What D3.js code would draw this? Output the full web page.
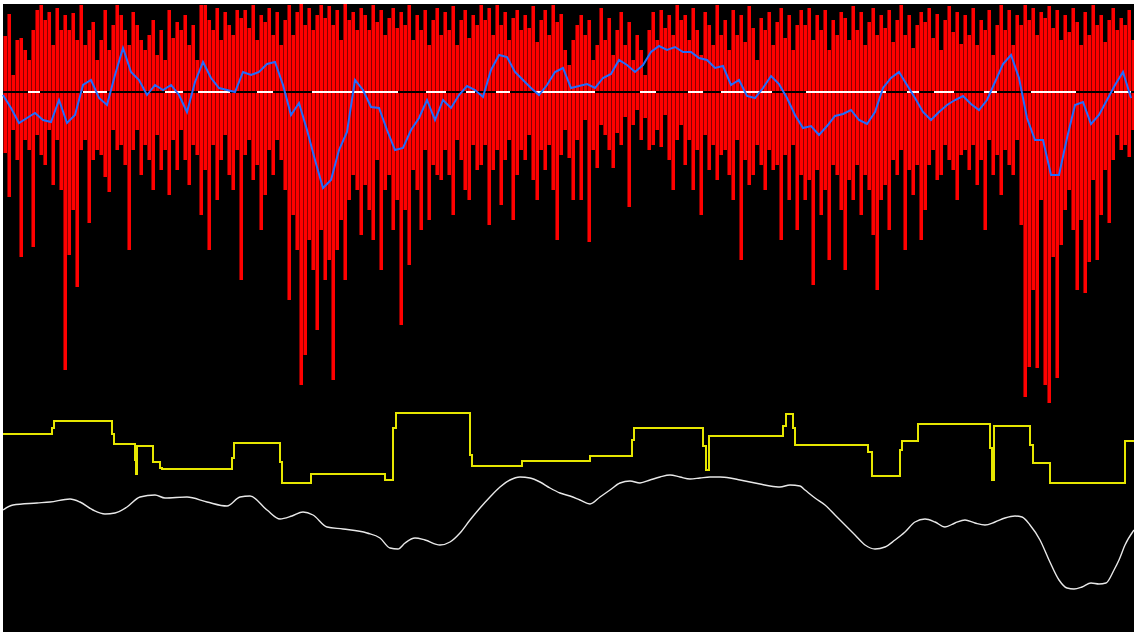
<!DOCTYPE html>
<html>
<head>
<meta charset="utf-8">
<script src="https://cdn.jsdelivr.net/npm/d3@7"></script>
<style>
	body { margin: 0; background: #fff; }
	svg { display: block; }
</style>
</head>
<body>
<div id="vis"></div>
<script>
const width = 1134;
const height = 635;

// histogram: upper and lower end of every bar, one bar every 4 time units
const barHigh = [
	56,78,17,52,54,42,32,62,82,87, 72,80,47,84,62,77,62,79,52,87,
	47,62,70,32,52,82,42,67,87,77, 62,47,80,67,52,42,57,72,37,62,
	32,82,54,70,62,77,47,67,32,87, 87,72,62,84,52,80,67,57,82,74,
	82,64,87,52,77,70,84,57,80,47, 72,87,57,80,88,67,84,62,77,87,
	74,86,67,82,52,88,72,80,62,84, 77,62,87,70,82,57,74,84,64,80,
	67,87,52,77,62,82,47,72,84,57, 80,62,86,47,72,82,54,77,67,87,
	72,84,57,87,67,80,52,74,82,62, 77,64,86,50,72,82,57,87,70,78,
	42,27,52,67,77,57,72,32,47,84, 52,74,37,62,80,47,70,32,57,42,
	17,62,80,52,82,64,77,57,87,72, 77,52,84,62,37,80,67,47,87,57,
	72,42,82,57,77,50,86,64,32,74, 62,80,47,70,84,54,77,42,67,82,
	67,84,52,77,62,82,42,72,57,80, 74,52,86,62,80,47,70,84,57,77,
	64,82,50,72,87,57,77,44,67,80, 70,84,54,78,42,72,86,60,80,48,
	77,57,84,47,72,62,82,37,67,87, 62,82,47,77,67,87,72,84,57,80,
	74,86,64,82,52,77,60,84,70,47, 80,57,87,67,77,50,72,84,62,74,
	67,82,52
];
const barLow = [
	-61,-105,-38,-68,-165,-48,-58,-155,-43,-63, -73,-38,-93,-48,-98,-278,-163,-118,-195,-58,
	-48,-131,-68,-58,-63,-85,-100,-38,-58,-53, -73,-158,-58,-38,-83,-53,-68,-98,-43,-78,
	-58,-103,-48,-78,-38,-68,-93,-53,-63,-123, -78,-158,-53,-108,-68,-43,-83,-98,-58,-188,
	-63,-48,-88,-73,-138,-103,-58,-83,-48,-68, -98,-208,-123,-158,-293,-263,-148,-178,-238,-138,
	-188,-168,-288,-158,-128,-188,-108,-83,-98,-143, -93,-118,-148,-68,-178,-98,-83,-138,-108,-233,
	-118,-173,-78,-98,-138,-58,-128,-73,-83,-88, -58,-83,-123,-48,-68,-98,-108,-53,-78,-73,
	-53,-133,-78,-58,-113,-68,-48,-128,-83,-58, -68,-43,-88,-108,-58,-78,-53,-98,-148,-63,
	-38,-66,-108,-48,-108,-28,-150,-58,-76,-33, -43,-58,-76,-41,-53,-25,-115,-33,-18,-48,
	-26,-58,-53,-38,-55,-23,-68,-98,-48,-33, -73,-48,-98,-58,-123,-43,-78,-53,-88,-63,
	-58,-83,-108,-48,-168,-68,-93,-83,-53,-73, -98,-58,-78,-73,-148,-63,-108,-53,-138,-83,
	-108,-88,-193,-78,-123,-98,-168,-73,-83,-118, -178,-88,-108,-73,-123,-83,-98,-143,-198,-108,
	-93,-138,-68,-83,-58,-158,-78,-103,-73,-148, -118,-73,-58,-88,-83,-53,-68,-78,-108,-63,
	-58,-78,-53,-93,-68,-138,-48,-83,-63,-103, -58,-73,-83,-48,-133,-305,-275,-198,-276,-108,
	-293,-311,-165,-286,-153,-118,-98,-138,-198,-128, -201,-170,-88,-168,-123,-78,-131,-68,-43,-58,
	-53,-65,-38
];
const barStep = 4;

// blue signal line, one value every 8 time units
const blueLine = [
	-3,-16,-31,-26,-21,-28,-30,-8,-31,-23,
	7,12,-6,-13,17,44,20,12,-3,7,
	2,7,-3,-20,10,30,14,4,2,0,
	20,17,20,28,30,7,-23,-11,-38,-68,
	-96,-88,-58,-40,12,2,-15,-16,-38,-58,
	-56,-38,-26,-8,-28,-8,-16,-3,6,2,
	-5,22,37,35,20,12,4,-3,7,20,
	24,4,6,8,4,14,18,32,27,20,
	27,40,46,42,45,40,40,34,32,24,
	26,7,12,-4,-6,4,16,8,-6,-23,
	-36,-34,-43,-34,-24,-22,-18,-28,-32,-20,
	4,14,20,7,-6,-20,-28,-20,-13,-8,
	-4,-12,-18,-8,10,28,37,14,-26,-48,
	-48,-83,-83,-46,-13,-10,-32,-23,-8,7,
	20,-6
];
const blueStep = 8;

// spans where the zero level is flagged (white)
const flagSpans = [
	[25,37],[80,104],[162,180],[195,227],[254,270],[309,395],[423,443],[463,472],
	[493,507],[533,592],[637,653],[685,700],[718,769],[803,883],[904,916],[931,951],
	[981,994],[1028,1073],[1111,1128]
];

// yellow step line
const stepT = [0,49,51,109,111,132,133,134,150,157,159,229,231,277,279,308,382,390,393,467,
	469,519,587,629,631,700,703,706,780,783,790,792,865,869,897,899,915,987,989,991,1027,1030,1047,1122];
const stepV = [-342,-336,-329,-342,-352,-368,-382,-354,-370,-376,-377,-366,-351,-370,-391,-382,-388,-336,-321,-363,
	-374,-369,-364,-348,-336,-354,-378,-344,-334,-322,-336,-353,-360,-384,-358,-349,-332,-356,-388,-334,-353,-371,-391,-349];

// white smooth line
const smoothT = [0,10,34,47,67,77,90,102,112,124,137,152,162,184,204,224,237,247,264,277,289,300,310,324,340,364,377,387,395,402,
	412,422,437,447,457,467,477,487,497,507,517,527,537,547,557,567,577,587,597,607,617,627,637,647,657,667,677,687,697,707,
	717,727,737,747,757,767,777,787,797,802,812,822,832,842,852,862,872,882,892,902,912,922,932,942,952,962,972,982,992,1002,
	1012,1019,1027,1037,1046,1056,1064,1071,1079,1088,1096,1103,1111,1116,1122,1131];
const smoothV = [-418,-413,-411,-410,-407,-410,-418,-422,-421,-415,-405,-403,-406,-405,-410,-414,-405,-404,-418,-427,-424,-420,-423,-435,-437,-441,-446,-456,-457,-451,
	-446,-448,-453,-450,-441,-428,-416,-405,-395,-388,-385,-386,-390,-396,-401,-404,-408,-412,-405,-398,-391,-389,-391,-388,-385,-383,-385,-387,-386,-385,
	-385,-386,-388,-390,-392,-394,-395,-393,-394,-398,-406,-413,-423,-433,-443,-453,-457,-455,-448,-440,-430,-427,-430,-435,-431,-428,-431,-433,-430,-426,
	-424,-425,-433,-448,-468,-488,-496,-497,-495,-491,-492,-491,-478,-468,-453,-438];

const tMax = 1131;
const vTop = 88;
const vBottom = -540;

const x = d3.scaleLinear()
	.domain([0, tMax])
	.range([3, width]);

const y = d3.scaleLinear()
	.domain([vTop, vBottom])
	.range([4, 632]);

const svg = d3.select("div#vis")
	.append("svg")
		.attr("width", width)
		.attr("height", height);

svg.append("rect")
	.attr("x", x(0))
	.attr("y", y(vTop))
	.attr("width", x(tMax) - x(0))
	.attr("height", y(vBottom) - y(vTop))
	.attr("fill", "black");

const bars = barHigh.map((h, i) => ({t: i * barStep, high: h, low: barLow[i]}));

const barsel = svg.append("g")
	.attr("shape-rendering", "crispEdges")
	.selectAll("g")
	.data(bars)
	.enter()
	.append("g");

barsel.append("rect")
	.attr("x", d => x(d.t))
	.attr("y", d => y(d.high))
	.attr("width", x(barStep) - x(0))
	.attr("height", d => y(d.low) - y(d.high))
	.attr("fill", "#ff0000");

// darker edge on each bar
barsel.append("rect")
	.attr("x", d => x(d.t))
	.attr("y", d => y(d.high))
	.attr("width", x(1) - x(0))
	.attr("height", d => y(d.low) - y(d.high))
	.attr("fill", "#8a0000");

// zero level: black with white flagged spans
svg.append("line")
	.attr("x1", x(0))
	.attr("x2", x(tMax))
	.attr("y1", y(0))
	.attr("y2", y(0))
	.attr("stroke", "black")
	.attr("stroke-width", 2);

svg.append("g")
	.selectAll("line")
	.data(flagSpans)
	.enter()
	.append("line")
		.attr("x1", d => x(d[0]))
		.attr("x2", d => x(d[1]))
		.attr("y1", y(0))
		.attr("y2", y(0))
		.attr("stroke", "white")
		.attr("stroke-width", 2);

svg.append("path")
	.datum(blueLine)
	.attr("fill", "none")
	.attr("stroke", "#1f6dff")
	.attr("stroke-width", 2)
	.attr("d", d3.line()
		.x((d, i) => x(i * blueStep))
		.y(d => y(d)));

const stepData = stepT.map((t, i) => [t, stepV[i]]);
stepData.push([tMax, stepV[stepV.length - 1]]);

svg.append("path")
	.datum(stepData)
	.attr("fill", "none")
	.attr("stroke", "#e6e600")
	.attr("stroke-width", 2)
	.attr("d", d3.line()
		.curve(d3.curveStepAfter)
		.x(d => x(d[0]))
		.y(d => y(d[1])));

svg.append("path")
	.datum(smoothT.map((t, i) => [t, smoothV[i]]))
	.attr("fill", "none")
	.attr("stroke", "#e8e8e8")
	.attr("stroke-width", 1.4)
	.attr("d", d3.line()
		.curve(d3.curveMonotoneX)
		.x(d => x(d[0]))
		.y(d => y(d[1])));
</script>
</body>
</html>
